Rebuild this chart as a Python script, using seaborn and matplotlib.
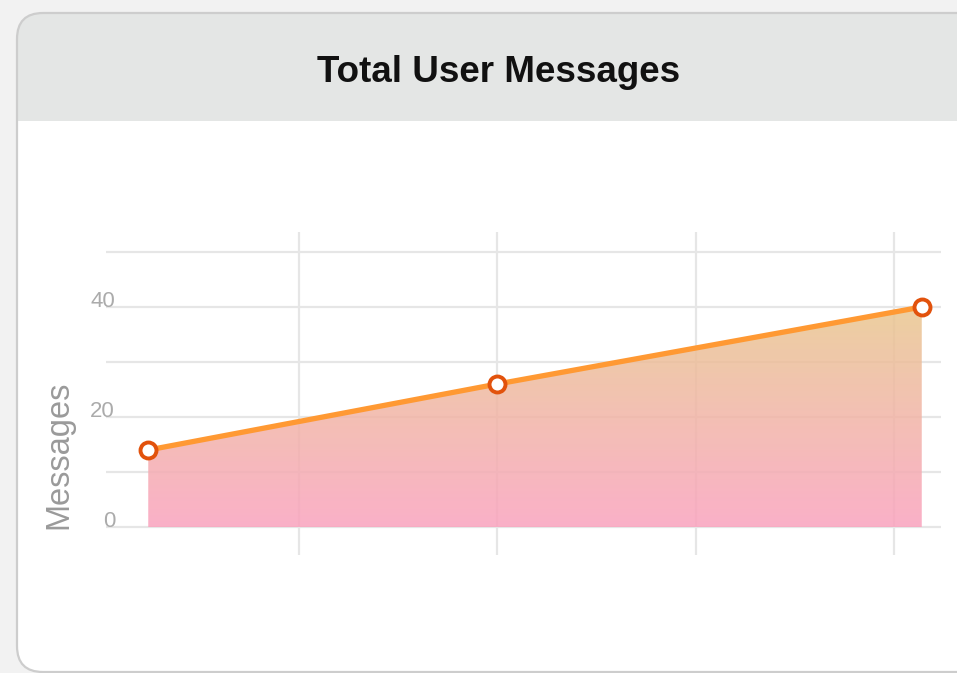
import numpy as np
import pandas as pd
import matplotlib as mpl
import matplotlib.pyplot as plt
import matplotlib.transforms as mtransforms
from matplotlib.patches import FancyBboxPatch, Rectangle
from matplotlib.colors import LinearSegmentedColormap
import seaborn as sns

# data
days = [0.24, 2.0, 4.14]
messages = [14, 26, 40]
grid_days = [1, 2, 3, 4]
y_grid = [0, 10, 20, 30, 40, 50]
y_labels = ['0', '', '20', '', '40', '']

title = 'Total User Messages'
y_title = 'Messages'

df = pd.DataFrame({'day': days, 'messages': messages})

sns.set_theme(style='white')
mpl.rcParams['font.family'] = ['Liberation Sans', 'DejaVu Sans']

W, H = 957, 673
fig = plt.figure(figsize=(W / 100, H / 100), dpi=100, facecolor='#f2f2f2')

# card background in pixel coords
bg = fig.add_axes([0, 0, 1, 1], zorder=-1)
bg.set_xlim(0, W)
bg.set_ylim(H, 0)
bg.axis('off')
card = FancyBboxPatch((17, 13), 1000, 659, boxstyle='round,pad=0,rounding_size=26',
                      fc='white', ec='none')
bg.add_patch(card)
header = Rectangle((17, 13), 1000, 108, fc='#e4e6e5', ec='none')
bg.add_patch(header)
header.set_clip_path(card)
bg.add_patch(FancyBboxPatch((17, 13), 1000, 659, boxstyle='round,pad=0,rounding_size=26',
                            fc='none', ec='#cdcdcd', lw=1.6))

fig.text(499 / W, 1 - 82.5 / H, title, ha='center', va='baseline',
         fontsize=26.5, fontweight='bold', color='#111111')

# main chart
ax = fig.add_axes([106 / W, 1 - 555 / H, 835 / W, 323 / H])
ax.set_facecolor('none')

ax.set_xticks(grid_days)
ax.set_xticklabels([''] * len(grid_days))
ax.set_yticks(y_grid)
ax.set_yticklabels(y_labels)
ax.set_axisbelow(True)
ax.grid(True, color='#e6e6e6', lw=1.6)
ax.tick_params(axis='both', length=0)
ax.tick_params(axis='y', pad=-6.5, labelsize=16, labelcolor='#ababab')
shift = mtransforms.ScaledTranslation(0, 0.06, fig.dpi_scale_trans)
for lbl in ax.get_yticklabels():
    lbl.set_verticalalignment('center')
    lbl.set_transform(lbl.get_transform() + shift)
for s in ax.spines.values():
    s.set_visible(False)

# gradient area under the line
poly = ax.fill_between(df['day'], df['messages'], 0, color='none', lw=0)
top = np.array([233, 199, 143]) / 255
bottom = np.array([250, 162, 190]) / 255
cmap = LinearSegmentedColormap.from_list('grad', [bottom, top])
grad = np.linspace(0, 1, 256).reshape(-1, 1)
im = ax.imshow(grad, cmap=cmap, aspect='auto', origin='lower', alpha=0.85,
               extent=[min(days), max(days), 0, max(messages)], zorder=1)
im.set_clip_path(poly.get_paths()[0], transform=ax.transData)

sns.lineplot(data=df, x='day', y='messages', ax=ax, color='#ff9933', lw=3.8,
             marker='o', markersize=11.5, markerfacecolor='white',
             markeredgecolor='#e2520c', markeredgewidth=2.8, zorder=3, clip_on=False)

ax.set_xlim(0.027, 4.237)
ax.set_ylim(-5.09, 53.64)
ax.set_xlabel('')
ax.set_ylabel(y_title, fontsize=23.5, color='#9a9a9a')
ax.yaxis.set_label_coords(-0.038, 0.31)

fig.savefig('out.png', dpi=100, facecolor=fig.get_facecolor())
